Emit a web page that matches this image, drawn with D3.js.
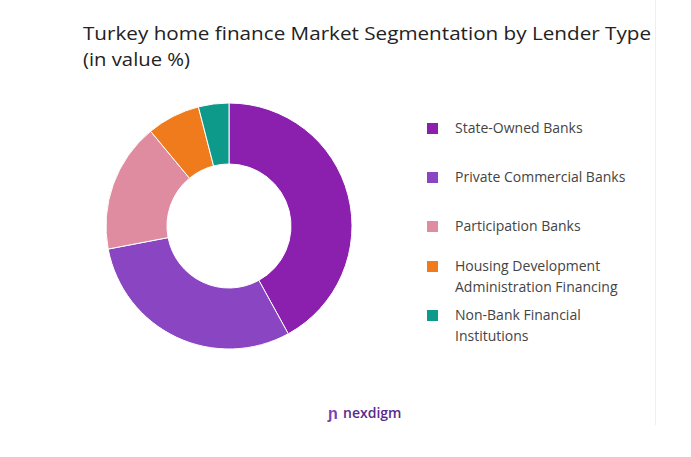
<!DOCTYPE html><html><head><meta charset="utf-8"><script src="https://cdn.jsdelivr.net/npm/d3@7"></script>
<style>body{margin:0;background:#fff}</style></head><body><svg id="c" width="691" height="457"></svg>
<script>
const categories=["State-Owned Banks","Private Commercial Banks","Participation Banks","Housing Development Administration Financing","Non-Bank Financial Institutions"];
const values=[42,30,17,7,4];
const colors=["#8B1FAE","#8A45C2","#DF8BA0","#F07B1D","#0E9A8A"];
const legendLines=[["State-Owned Banks"],["Private Commercial Banks"],["Participation Banks"],["Housing Development","Administration Financing"],["Non-Bank Financial","Institutions"]];
const svg=d3.select("#c");
const F="'Open Sans', sans-serif";
svg.append("line").attr("x1",655.5).attr("x2",655.5).attr("y1",0).attr("y2",425).attr("stroke","#eee");
svg.append("text").attr("x",83).attr("y",40).attr("font-family",F).attr("font-size",19).attr("font-weight",500).attr("fill","#222").attr("textLength",568).attr("lengthAdjust","spacingAndGlyphs").text("Turkey home finance Market Segmentation by Lender Type");
svg.append("text").attr("x",83).attr("y",66).attr("font-family",F).attr("font-size",19).attr("font-weight",500).attr("fill","#222").attr("textLength",107).attr("lengthAdjust","spacingAndGlyphs").text("(in value %)");
const pie=d3.pie().sort(null)(values);
const arc=d3.arc().innerRadius(62).outerRadius(123);
svg.append("g").attr("transform","translate(229,226)").selectAll("path").data(pie).join("path").attr("d",arc).attr("fill",(d,i)=>colors[i]).attr("stroke","#fff").attr("stroke-width",1);
const ys=[129,178,227,267,316];
const lg=svg.append("g");
legendLines.forEach((ls,i)=>{
 lg.append("rect").attr("x",427).attr("y",ys[i]-6).attr("width",11).attr("height",11).attr("fill",colors[i]);
 ls.forEach((t,j)=>lg.append("text").attr("x",455).attr("y",ys[i]+4+j*20.5).attr("font-family",F).attr("font-size",14).attr("fill","#444").text(t));
});
svg.append("text").attr("x",328).attr("y",419).attr("font-family",F).attr("font-size",16).attr("font-weight","bold").attr("fill","#7b3fb0").text("ɲ");
svg.append("text").attr("x",343).attr("y",418).attr("font-family",F).attr("font-size",14).attr("font-weight","600").attr("fill","#5a2a8a").text("nexdigm");
</script></body></html>
